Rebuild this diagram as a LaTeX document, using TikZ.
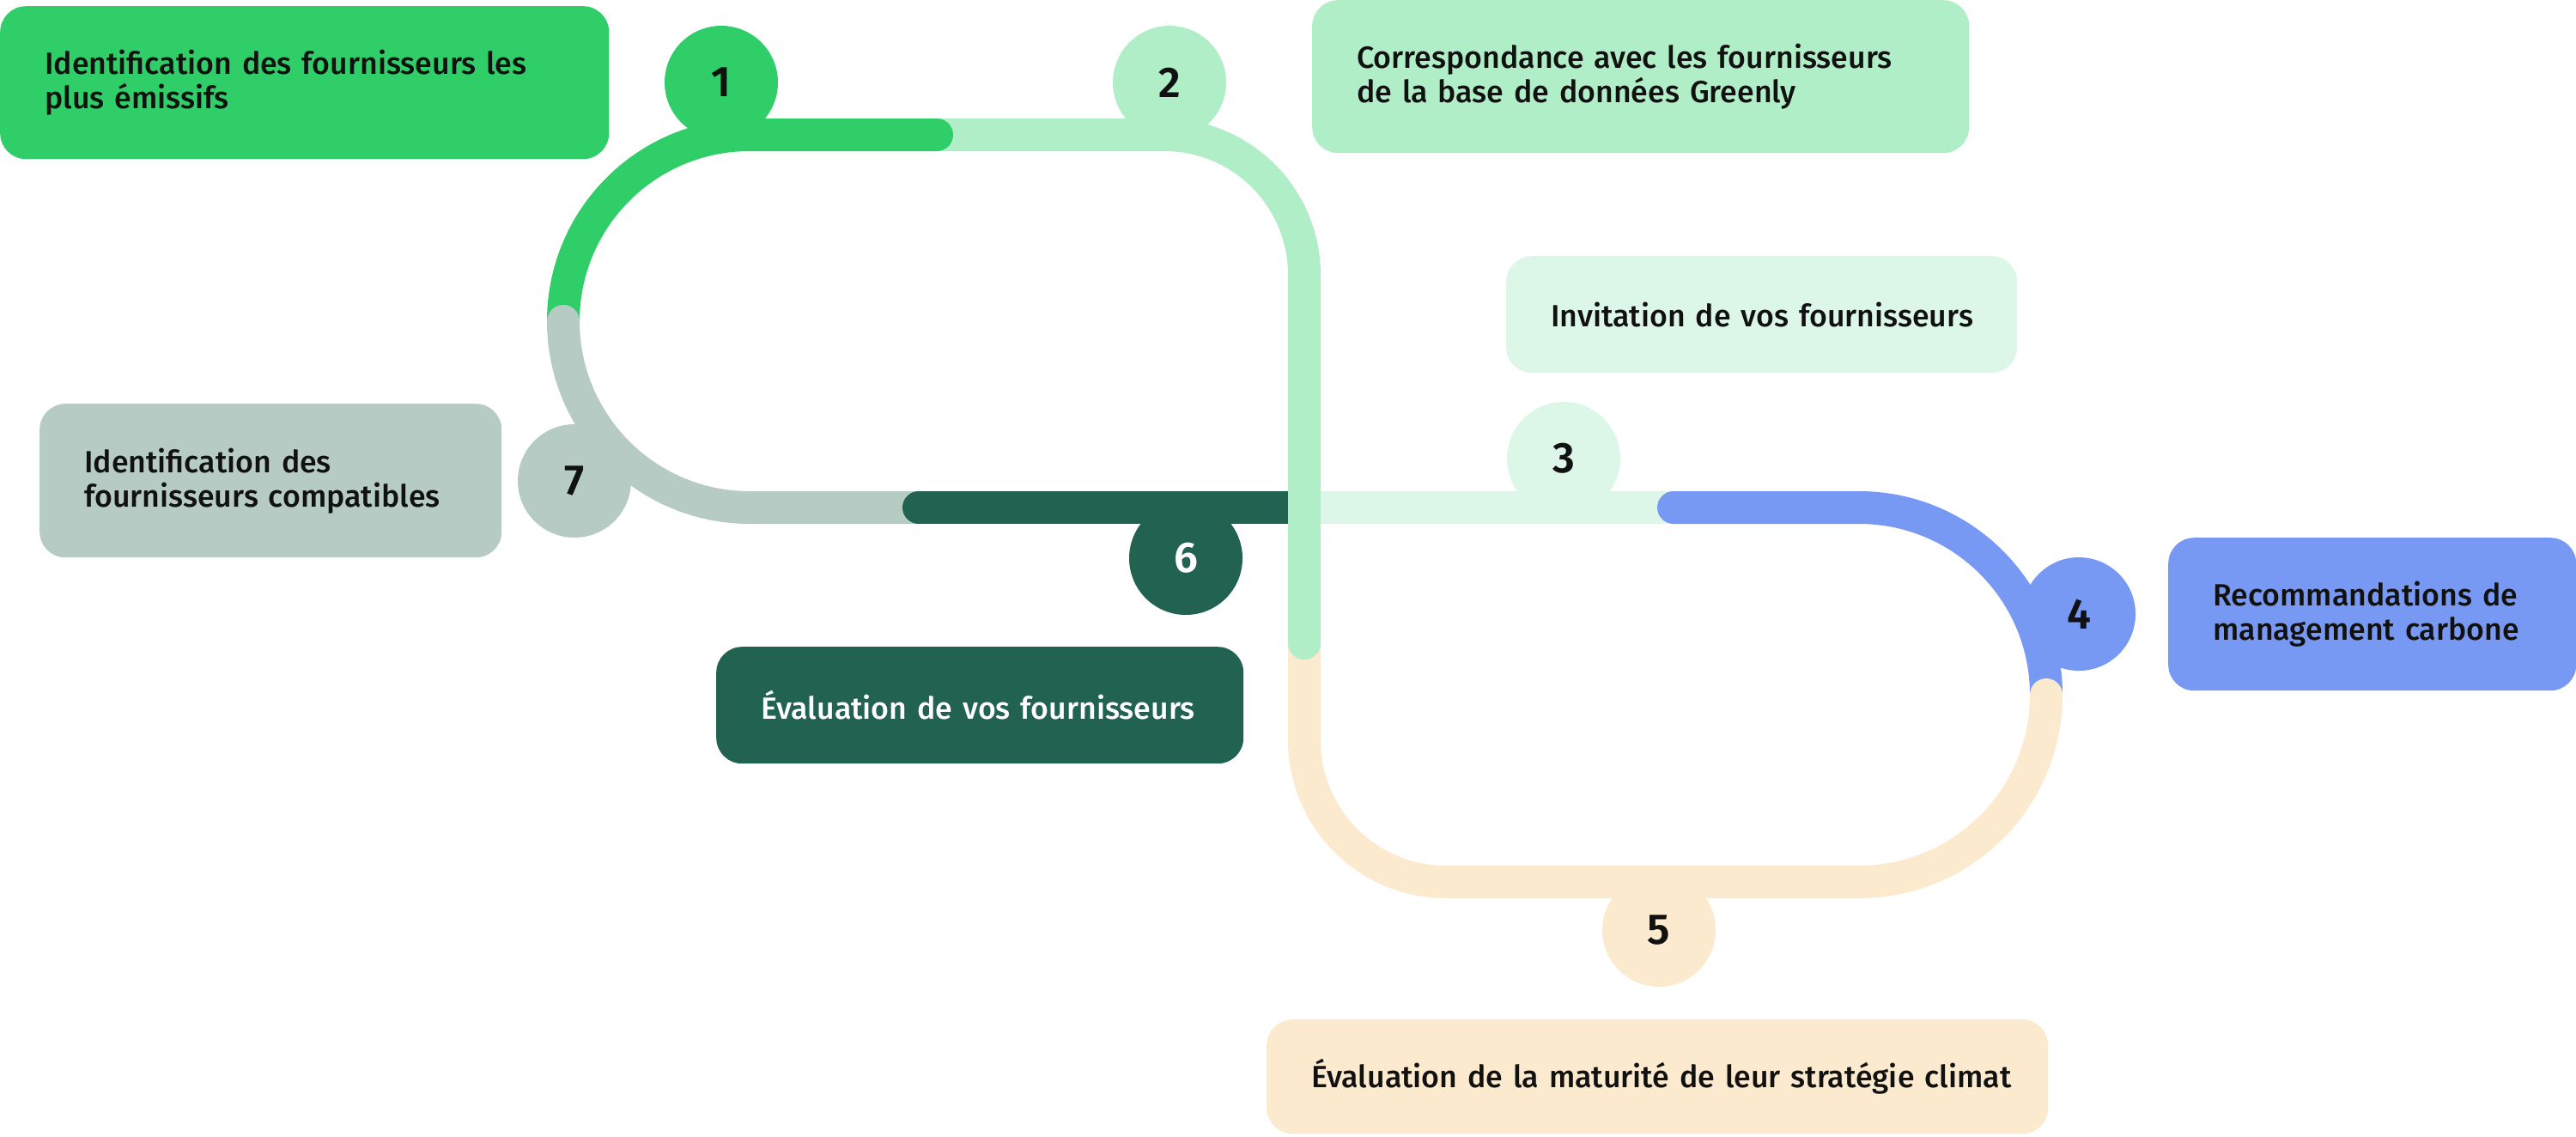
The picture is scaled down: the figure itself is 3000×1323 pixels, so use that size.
\documentclass[tikz,border=0pt]{standalone}
\usepackage{fontspec}
\setmainfont{Fira Sans}[UprightFont={* Medium}, BoldFont={* SemiBold}]
\usepackage{tikz}
\definecolor{ink}{HTML}{111111}
\definecolor{vif}{HTML}{30CE68}
\definecolor{menthe}{HTML}{AFEEC6}
\definecolor{pale}{HTML}{DCF7E7}
\definecolor{bleu}{HTML}{7798F3}
\definecolor{creme}{HTML}{FBEACE}
\definecolor{foret}{HTML}{216350}
\definecolor{gris}{HTML}{B5CBC4}

\begin{document}
\begin{tikzpicture}[x=1pt, y=-1pt,
  box/.style={anchor=north west, rounded corners=30pt, inner xsep=52pt, inner ysep=0pt, align=left, text=ink, font=\fontsize{35.7}{40}\selectfont},
  num/.style={circle, minimum size=132pt, inner sep=0pt, text=ink, font=\fontsize{50}{50}\selectfont\bfseries},
  track/.style={line width=38pt, line cap=round}]
\useasboundingbox (0,0) rectangle (3000,1323);
% track, drawn from bottom layer up
\draw[track, pale] (1519,591) -- (1949,591);
\draw[track, bleu, rounded corners=218pt] (1949,591) -- (2383,591) -- (2383,809);
\draw[track, creme, rounded corners=218pt] (2383,809) -- (2383,1027) -- (1950,1027);
\draw[track, creme, rounded corners=165pt] (1950,1027) -- (1519,1027) -- (1519,600);
\draw[track, menthe, rounded corners=163pt] (1091,157) -- (1519,157) -- (1519,749);
\draw[track, vif, rounded corners=217pt] (656,374) -- (656,157) -- (1091,157);
\draw[track, gris, rounded corners=217pt] (656,374) -- (656,591) -- (1070,591);
\draw[track, foret, line cap=butt] (1070,591) -- (1500,591);
\fill[foret] (1070,591) circle (19pt);
% step numbers
\node[num, fill=vif] (n1) at (840,96) {1};
\node[num, fill=menthe] (n2) at (1362,96) {2};
\node[num, fill=pale] (n3) at (1821,534) {3};
\node[num, fill=bleu] (n4) at (2421,715) {4};
\node[num, fill=creme] (n5) at (1932,1083) {5};
\node[num, fill=foret, text=white] (n6) at (1381,650) {6};
\node[num, fill=gris] (n7) at (669,560) {7};
% labels
\node[box, fill=vif, minimum width=709pt, minimum height=178pt, text width=605pt] (b1) at (0,7) {\mbox{Identification des fournisseurs les}\\plus émissifs};
\node[box, fill=menthe, minimum width=765pt, minimum height=178pt, text width=661pt] (b2) at (1528,0) {\mbox{Correspondance avec les fournisseurs}\\de la base de données Greenly};
\node[box, fill=pale, minimum width=595pt, minimum height=136pt, text width=491pt] (b3) at (1754,298) {\mbox{Invitation de vos fournisseurs}};
\node[box, fill=bleu, minimum width=475pt, minimum height=178pt, text width=371pt] (b4) at (2525,626) {\mbox{Recommandations de}\\\mbox{management carbone}};
\node[box, fill=creme, minimum width=910pt, minimum height=133pt, text width=806pt] (b5) at (1475,1187) {\mbox{Évaluation de la maturité de leur stratégie climat}};
\node[box, fill=foret, text=white, minimum width=614pt, minimum height=136pt, text width=510pt] (b6) at (834,753) {\mbox{Évaluation de vos fournisseurs}};
\node[box, fill=gris, minimum width=538pt, minimum height=179pt, text width=434pt] (b7) at (46,470) {Identification des\\\mbox{fournisseurs compatibles}};
\end{tikzpicture}
\end{document}
